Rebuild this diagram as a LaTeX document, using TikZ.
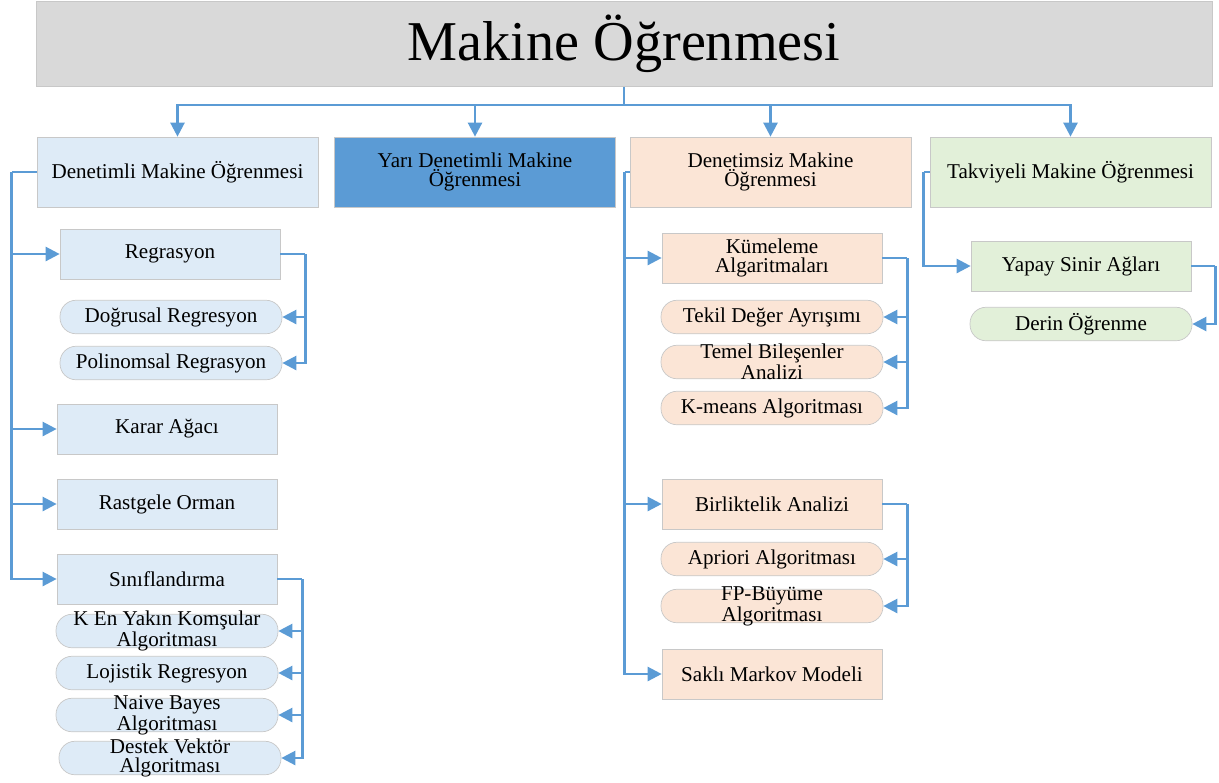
\documentclass[tikz,border=0pt]{standalone}
\usepackage{fontspec}
\setmainfont{Liberation Serif}
\usetikzlibrary{arrows.meta,positioning}
\definecolor{titlegray}{HTML}{D9D9D9}
\definecolor{paleblue}{HTML}{DEEBF7}
\definecolor{midblue}{HTML}{5B9BD5}
\definecolor{peach}{HTML}{FBE5D6}
\definecolor{palegreen}{HTML}{E2F0D9}
\definecolor{edge}{HTML}{C8C8C8}
\tikzset{
 box/.style={draw=edge, rectangle, align=center, inner sep=1pt, font=\fontsize{12}{10.5}\selectfont, minimum width=4.4cm, minimum height=1cm},
 pill/.style={box, rounded corners=0.32cm, inner ysep=-4pt, minimum width=4.44cm, minimum height=0.67cm},
 head/.style={box, minimum width=5.62cm, minimum height=1.4cm},
 link/.style={draw=midblue, line width=1.4pt},
 arr/.style={link, -{Triangle[length=8pt,width=8pt]}}
}
\begin{document}
\begin{tikzpicture}[x=0.02cm,y=-0.02cm]
 \useasboundingbox (0,0) rectangle (1219,782);
 \node (title) [box, fill=titlegray, minimum width=23.52cm, minimum height=1.7cm, font=\fontsize{32}{38}\selectfont] at (624,44) {Makine Öğrenmesi};

 \node (dml) [head, fill=paleblue] at (177.5,172) {Denetimli Makine Öğrenmesi};
 \node (ydml) [head, fill=midblue] at (475,172) {Yarı Denetimli Makine\\Öğrenmesi};
 \node (dsz) [head, fill=peach] at (770.5,172) {Denetimsiz Makine\\Öğrenmesi};
 \node (tkv) [head, fill=palegreen] at (1070.5,172) {Takviyeli Makine Öğrenmesi};

 \node (reg) [box, fill=paleblue] at (170,254) {Regrasyon};
 \node (dogr) [pill, fill=paleblue] at (171,317) {Doğrusal Regresyon};
 \node (poli) [pill, fill=paleblue] at (171,363) {Polinomsal Regrasyon};
 \node (karar) [box, fill=paleblue] at (167,429) {Karar Ağacı};
 \node (rast) [box, fill=paleblue] at (167,504) {Rastgele Orman};
 \node (sinif) [box, fill=paleblue] at (167,579) {Sınıflandırma};
 \node (knn) [pill, fill=paleblue] at (167,631) {K En Yakın Komşular\\Algoritması};
 \node (loj) [pill, fill=paleblue] at (167,673) {Lojistik Regresyon};
 \node (naive) [pill, fill=paleblue] at (167,715) {Naive Bayes\\Algoritması};
 \node (destek) [pill, fill=paleblue] at (170,758) {Destek Vektör\\Algoritması};

 \node (kume) [box, fill=peach] at (772,258) {Kümeleme\\Algaritmaları};
 \node (tekil) [pill, fill=peach] at (772,317) {Tekil Değer Ayrışımı};
 \node (temel) [pill, fill=peach] at (772,362) {Temel Bileşenler\\Analizi};
 \node (kmeans) [pill, fill=peach] at (772,408) {K-means Algoritması};
 \node (birlik) [box, fill=peach] at (772,504) {Birliktelik Analizi};
 \node (apri) [pill, fill=peach] at (772,559) {Apriori Algoritması};
 \node (fp) [pill, fill=peach] at (772,606) {FP-Büyüme\\Algoritması};
 \node (markov) [box, fill=peach] at (772,674) {Saklı Markov Modeli};

 \node (yapay) [box, fill=palegreen] at (1081,266) {Yapay Sinir Ağları};
 \node (derin) [pill, fill=palegreen] at (1081,324) {Derin Öğrenme};

 \draw[link] (title.south) -- ++(0,18) coordinate (hub);
 \foreach \n in {dml,ydml,dsz,tkv}
  \draw[arr] (hub) -| (\n.north);

 \draw[link] (dml.west) -- ++(-25,0) coordinate (ltrunk);
 \foreach \n in {reg,karar,rast,sinif}
  \draw[arr] (ltrunk) |- (\n.west);
 \draw[link] (reg.east) -- ++(25,0) coordinate (regbus);
 \foreach \n in {dogr,poli}
  \draw[arr] (regbus) |- (\n.east);
 \draw[link] (sinif.east) -- ++(25,0) coordinate (sinbus);
 \foreach \n in {knn,loj,naive,destek}
  \draw[arr] (sinbus) |- (\n.east);

 \draw[link] (dsz.west) -- ++(-5,0) coordinate (mtrunk);
 \foreach \n in {kume,birlik,markov}
  \draw[arr] (mtrunk) |- (\n.west);
 \draw[link] (kume.east) -- ++(25,0) coordinate (kumbus);
 \foreach \n in {tekil,temel,kmeans}
  \draw[arr] (kumbus) |- (\n.east);
 \draw[link] (birlik.east) -- ++(25,0) coordinate (birbus);
 \foreach \n in {apri,fp}
  \draw[arr] (birbus) |- (\n.east);

 \draw[link] (tkv.west) -- ++(-6,0) coordinate (rtrunk);
 \draw[arr] (rtrunk) |- (yapay.west);
 \draw[link] (yapay.east) -- ++(24,0) coordinate (yapbus);
 \draw[arr] (yapbus) |- (derin.east);
\end{tikzpicture}
\end{document}
